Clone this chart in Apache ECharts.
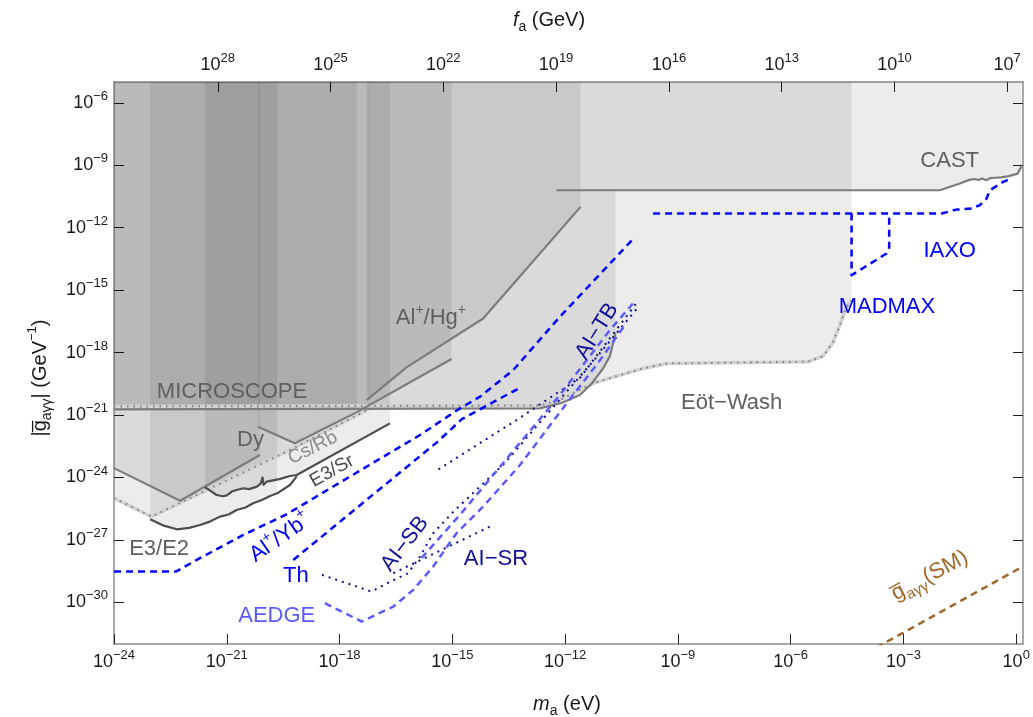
<!DOCTYPE html>
<html><head><meta charset="utf-8">
<script src="https://cdn.jsdelivr.net/npm/echarts@6/dist/echarts.min.js"></script>
<style>html,body{margin:0;padding:0;background:#fff}#c{width:1033px;height:717px}</style>
</head><body><div id="c"></div>
<script>
// ---------- axis ticks (log10 values) ----------
const X_TICKS = [-24, -21, -18, -15, -12, -9, -6, -3, 0];
const Y_TICKS = [-30, -27, -24, -21, -18, -15, -12, -9, -6];
const FA_TICKS = [28, 25, 22, 19, 16, 13, 10, 7];
const MF_LOG = 6.76;            // log10(m_a * f_a) in eV*GeV
const X_RANGE = [-24, 0.18];
const Y_RANGE = [-32, -5];

// ---------- exclusion boundaries [log10 m_a, log10 g] ----------
const EOT_WASH = [[-24,-20.59],[-12.67,-20.54],[-12.14,-20.28],[-11.26,-19.48],[-10.54,-19.08],[-9.93,-18.76],[-9.29,-18.52],[-5.54,-18.44],[-5.14,-18.17],[-4.88,-17.54],[-4.69,-16.68],[-4.53,-15.86],[-4.38,-15.48]];
const MICROSCOPE = [[-24,-20.73],[-12.67,-20.68],[-12.05,-20.39],[-11.61,-20.04],[-11.30,-19.51],[-10.99,-18.76],[-10.81,-18.17],[-10.66,-17.06]];
const CAST = [[-12.23,-10.20],[-2.03,-10.20],[-1.50,-9.88],[-1.23,-9.69],[-1.10,-9.66],[-1.00,-9.71],[-0.90,-9.64],[-0.80,-9.72],[-0.70,-9.62],[-0.55,-9.60],[-0.40,-9.58],[-0.20,-9.52],[0.04,-9.40],[0.14,-9.05]];
const CS_RB = [[-24,-24.99],[-23.0,-25.88],[-19.32,-22.68],[-17.2,-20.70]];
const DY_A = [[-24,-23.55],[-22.24,-25.12],[-20.12,-22.92]];
const DY_B = [[-20.17,-21.56],[-19.19,-22.36],[-17.54,-20.86]];
const DY_C = [[-17.54,-20.86],[-15.02,-18.31]];
const AL_HG = [[-17.28,-20.28],[-16.22,-18.71],[-14.18,-16.36],[-11.59,-11.00]];
const E3_E2 = [[-23.04,-26.01],[-22.7,-26.30],[-22.33,-26.49],[-22.0,-26.42],[-21.71,-26.28],[-21.45,-26.12],[-21.18,-25.88],[-20.95,-25.78],[-20.74,-25.56],[-20.5,-25.44],[-20.30,-25.24],[-20.05,-25.07],[-19.85,-24.89],[-19.66,-24.76],[-19.32,-24.36],[-19.14,-23.95]];
const E3_E2_END = -19.66;
const E3_SR = [[-21.58,-24.47],[-21.45,-24.62],[-21.27,-24.84],[-21.1,-24.9],[-21.0,-24.86],[-20.85,-24.66],[-20.74,-24.60],[-20.56,-24.52],[-20.4,-24.56],[-20.20,-24.44],[-20.1,-24.30],[-20.05,-24.0],[-20.02,-24.35],[-19.94,-24.20],[-19.6,-24.08],[-19.32,-23.93],[-19.14,-23.88],[-16.66,-21.40]];

// ---------- projections ----------
const AL_YB = [[-24,-28.52],[-22.35,-28.52],[-21.80,-27.96],[-20.56,-26.76],[-19.41,-25.77],[-17.28,-23.48],[-15.86,-21.96],[-14.84,-20.73],[-14.25,-20.1],[-13.38,-18.84],[-12.14,-16.28],[-10.14,-12.44]];
const TH = [[-19.23,-27.96],[-15.37,-22.25],[-14.75,-21.20],[-13.73,-20.2],[-13.2,-19.7]];
const IAXO = [[-9.66,-11.32],[-1.99,-11.32],[-1.59,-11.13],[-1.19,-11.08],[-0.97,-10.92],[-0.79,-10.60],[-0.70,-10.20],[-0.35,-9.80],[-0.17,-9.67]];
const MADMAX = [[-4.38,-11.32],[-4.38,-14.28],[-3.45,-13.24],[-3.38,-12.95],[-3.38,-11.32]];
const AEDGE = [[-18.39,-30.04],[-17.41,-30.92],[-16.57,-30.20],[-16.04,-29.40],[-15.51,-28.28],[-14.89,-26.68],[-14.18,-25.40],[-13.20,-23.40],[-11.96,-20.44],[-11.07,-18.36],[-10.38,-16.6]];
const AI_SB_DASH = [[-15.82,-27.87],[-14.80,-25.80],[-13.47,-22.92],[-12.14,-20.04],[-10.81,-16.92],[-10.12,-15.48]];
const AI_SB = [[-18.47,-28.68],[-17.15,-29.48],[-16.64,-29.0],[-16.18,-28.6],[-15.86,-27.8],[-15.51,-26.68],[-14.97,-25.64],[-13.6,-23.3],[-12.5,-21.0],[-11.2,-18.3],[-10.05,-15.8]];
const AI_SR = [[-16.57,-28.60],[-13.91,-26.28]];
const AI_TB = [[-15.37,-23.61],[-13.29,-21.24],[-11.6,-19.2],[-10.05,-15.5]];
const SM_LINE = [[-4,-32.45],[0.18,-28.27]];

// ---------- labels: text, [log m, log g], rotation deg ----------
const LABELS = [
  {t:'{t|CAST}', p:[-1.77,-8.81], r:0, c:'#5f5f5f'},
  {t:'{t|IAXO}', p:[-1.77,-13.13], r:0, c:'#0000ff'},
  {t:'{t|MADMAX}', p:[-3.44,-15.82], r:0, c:'#0000ff'},
  {t:'{t|Eöt−Wash}', p:[-7.57,-20.42], r:0, c:'#5f5f5f'},
  {t:'{t|MICROSCOPE}', p:[-20.86,-19.90], r:0, c:'#5f5f5f'},
  {t:'{t|Al}{p|+}{t|/Hg}{p|+}', p:[-15.57,-16.34], r:0, c:'#5f5f5f'},
  {t:'{t|Dy}', p:[-20.37,-22.20], r:0, c:'#5f5f5f'},
  {t:'{s|Cs/Rb}', p:[-18.71,-22.58], r:27, c:'#8c8c8c'},
  {t:'{s|E3/Sr}', p:[-18.20,-23.69], r:29, c:'#4a4a4a'},
  {t:'{t|E3/E2}', p:[-22.80,-27.43], r:0, c:'#5f5f5f'},
  {t:'{t|Al}{p|+}{t|/Yb}{p|+}', p:[-19.58,-26.90], r:35, c:'#0000ff'},
  {t:'{t|Th}', p:[-19.16,-28.71], r:0, c:'#0000ff'},
  {t:'{t|AEDGE}', p:[-19.67,-30.63], r:0, c:'#5b5bff'},
  {t:'{t|AI−SB}', p:[-16.26,-27.19], r:52, c:'#10109a'},
  {t:'{t|AI−SR}', p:[-13.84,-27.91], r:0, c:'#10109a'},
  {t:'{t|AI−TB}', p:[-11.15,-16.97], r:58, c:'#10109a'},
  {t:'{t|g̅}{u|aγγ}{t|(SM)}', p:[-2.30,-28.71], r:28, c:'#a0662a'}
];

const FONT = '"Liberation Sans", Arial, Helvetica, sans-serif';
const FILL = 'rgba(0,0,0,0.075)';

function expStr(e){ return e < 0 ? '−' + Math.abs(e) : String(e); }
function pow10(e){ return '{b|10}{s|' + expStr(e) + '}'; }
const TICK_RICH = {
  b:{fontSize:18, fontFamily:FONT, color:'#1a1a1a', lineHeight:26},
  s:{fontSize:13, fontFamily:FONT, color:'#1a1a1a', lineHeight:12, verticalAlign:'top'}
};
function closeTop(pts){ return pts.concat([[pts[pts.length-1][0], Y_RANGE[1]], [pts[0][0], Y_RANGE[1]]]); }

const REGIONS = [
  closeTop(EOT_WASH),
  MICROSCOPE.concat([[-10.66,-10.20],[-12.23,-10.20],[-12.23,-5],[-24,-5]]),
  closeTop(CAST),
  closeTop(CS_RB),
  closeTop(DY_A),
  closeTop(DY_B),
  closeTop([[-17.22,-20.54]].concat(DY_C.slice(1))),
  closeTop(AL_HG),
  closeTop(E3_E2.filter(p => p[0] <= E3_E2_END)),
  closeTop(E3_SR)
];

function regionSeries(pts){
  return {type:'custom', xAxisIndex:0, yAxisIndex:0, silent:true, clip:true, z:1,
    data:[[-10,-10]],
    renderItem:(params, api) => ({type:'polygon', shape:{points: pts.map(p => api.coord(p))}, style:{fill: FILL}})};
}
function lineSeries(pts, color, width, type, z, cap){
  return {type:'line', xAxisIndex:0, yAxisIndex:0, data:pts, showSymbol:false, symbol:'none', silent:true, clip:true,
    z: z || 3, lineStyle:{color, width, type: type || 'solid', cap: cap || 'butt', join:'round'}};
}

const axisCommon = {
  type:'value', splitLine:{show:false},
  axisLine:{show:true, onZero:false, lineStyle:{color:'#8c8c8c', width:1.5}},
};
const option = {
  animation:false,
  backgroundColor:'#ffffff',
  grid:{left:114, right:10, top:82, bottom:73},
  xAxis:[
    Object.assign({}, axisCommon, {position:'bottom', min:X_RANGE[0], max:X_RANGE[1],
      axisTick:{show:true, inside:true, length:10, customValues:X_TICKS, lineStyle:{color:'#222', width:1}},
      axisLabel:{customValues:X_TICKS, margin:5, formatter:v => pow10(Math.round(v)), rich:TICK_RICH}}),
    Object.assign({}, axisCommon, {position:'top', min:X_RANGE[0], max:X_RANGE[1],
      axisTick:{show:true, inside:true, length:10, customValues:FA_TICKS.map(f => MF_LOG - f), lineStyle:{color:'#222', width:1}},
      axisLabel:{customValues:FA_TICKS.map(f => MF_LOG - f), margin:4, formatter:v => pow10(Math.round(MF_LOG - v)), rich:TICK_RICH}})
  ],
  yAxis:[
    Object.assign({}, axisCommon, {position:'left', min:Y_RANGE[0], max:Y_RANGE[1],
      axisTick:{show:true, inside:true, length:10, customValues:Y_TICKS, lineStyle:{color:'#222', width:1}},
      axisLabel:{customValues:Y_TICKS, margin:6, formatter:v => pow10(Math.round(v)), rich:TICK_RICH}}),
    Object.assign({}, axisCommon, {position:'right', min:Y_RANGE[0], max:Y_RANGE[1],
      axisTick:{show:true, inside:true, length:10, customValues:Y_TICKS, lineStyle:{color:'#222', width:1}},
      axisLabel:{show:false}})
  ],
  series: [].concat(
    REGIONS.map(regionSeries),
    [
      lineSeries(EOT_WASH, '#d2d2d2', 3.5, 'solid', 2),
      lineSeries(EOT_WASH, '#7d7d7d', 2, [1.5, 5], 2),
      lineSeries(CS_RB, '#d2d2d2', 3.5, 'solid', 2),
      lineSeries(CS_RB, '#7d7d7d', 2, [1.5, 5], 2),
      lineSeries(MICROSCOPE, '#7c7c7c', 2.2),
      lineSeries(CAST, '#7c7c7c', 2.2),
      lineSeries(DY_A, '#7c7c7c', 2.2),
      lineSeries(DY_B.concat(DY_C.slice(1)), '#7c7c7c', 2.2),
      lineSeries(AL_HG, '#7c7c7c', 2.2),
      lineSeries(E3_E2, '#4d4d4d', 2.2),
      lineSeries(E3_SR, '#4d4d4d', 2.2),
      lineSeries(AI_SB, '#10108a', 2, [2, 5], 4),
      lineSeries(AI_SR, '#10108a', 2, [2, 5], 4),
      lineSeries(AI_TB, '#10108a', 2, [2, 5], 4),
      lineSeries(AEDGE, '#5b5bff', 2.5, [7, 5], 4),
      lineSeries(AI_SB_DASH, '#5b5bff', 2.5, [7, 5], 4),
      lineSeries(AL_YB, '#0000ff', 2.5, [7, 5], 5),
      lineSeries(TH, '#0000ff', 2.5, [7, 5], 5),
      lineSeries(IAXO, '#0000ff', 2.5, [7, 5], 5),
      lineSeries(MADMAX, '#0000ff', 2.5, [7, 5], 5),
      lineSeries(SM_LINE, '#a0662a', 2.5, [7, 5], 5)
    ]
  )
};

const chart = echarts.init(document.getElementById('c'), null, {renderer:'canvas'});
chart.setOption(option);

const LABEL_RICH = {
  t:{fontSize:22, fontFamily:FONT, lineHeight:30},
  s:{fontSize:19, fontFamily:FONT, lineHeight:26},
  p:{fontSize:14, fontFamily:FONT, lineHeight:14, verticalAlign:'top'},
  u:{fontSize:15, fontFamily:FONT, lineHeight:19, verticalAlign:'bottom'}
};
const TITLE_RICH = {
  t:{fontSize:20, fontFamily:FONT, lineHeight:28, fill:'#1a1a1a'},
  i:{fontSize:20, fontFamily:FONT, fontStyle:'italic', lineHeight:28, fill:'#1a1a1a'},
  u:{fontSize:14, fontFamily:FONT, lineHeight:18, verticalAlign:'bottom', fill:'#1a1a1a'},
  p:{fontSize:13, fontFamily:FONT, lineHeight:13, verticalAlign:'top', fill:'#1a1a1a'}
};

const graphics = LABELS.map(l => {
  const px = chart.convertToPixel({gridIndex:0}, l.p);
  return {type:'text', x:px[0], y:px[1], rotation:l.r * Math.PI / 180, z:100, silent:true,
    style:{text:l.t, fill:l.c, align:'center', verticalAlign:'middle', rich:LABEL_RICH}};
});
graphics.push({type:'text', x:549, y:20, z:100, style:{text:'{i|f}{u|a}{t| (GeV)}', align:'center', verticalAlign:'middle', rich:TITLE_RICH}});
graphics.push({type:'text', x:567, y:704, z:100, style:{text:'{i|m}{u|a}{t| (eV)}', align:'center', verticalAlign:'middle', rich:TITLE_RICH}});
graphics.push({type:'text', x:40, y:378, rotation:Math.PI/2, z:100, style:{text:'{t||}{t|g̅}{u|aγγ}{t|| (GeV}{p|−1}{t|)}', align:'center', verticalAlign:'middle', rich:TITLE_RICH}});
chart.setOption({graphic: graphics});
</script></body></html>
